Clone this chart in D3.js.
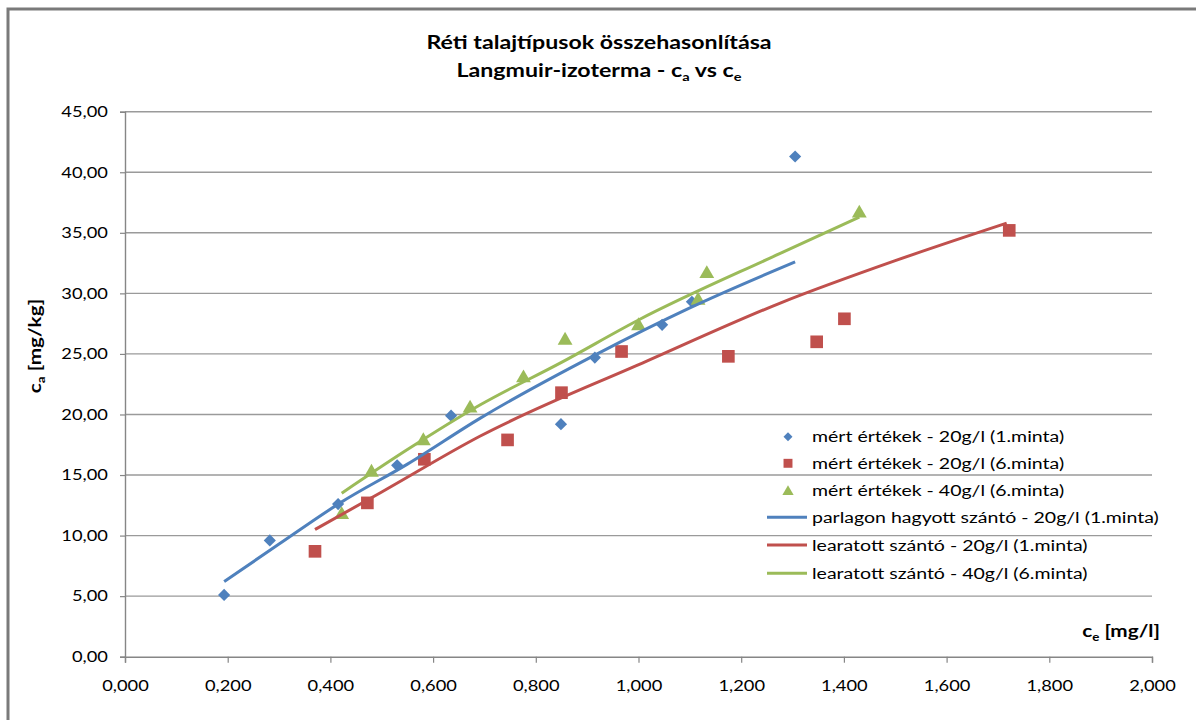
<!DOCTYPE html>
<html>
<head>
<meta charset="utf-8">
<script src="https://cdn.jsdelivr.net/npm/d3@7"></script>
<style>
    body { margin: 0; background: #fff; }
    text { font-family: Lato, "Open Sans", sans-serif; fill: #000; }
</style>
</head>
<body>
<svg width="1196" height="720"></svg>
<script>
const blueData = [[0.193, 5.1], [0.282, 9.6], [0.415, 12.6], [0.530, 15.8], [0.635, 19.9],
    [0.849, 19.2], [0.915, 24.7], [1.046, 27.4], [1.104, 29.3], [1.305, 41.3]];
const redData = [[0.370, 8.7], [0.472, 12.7], [0.583, 16.3], [0.745, 17.9], [0.850, 21.8],
    [0.967, 25.2], [1.175, 24.8], [1.347, 26.0], [1.401, 27.9], [1.722, 35.2]];
const greenData = [[0.422, 11.8], [0.480, 15.3], [0.581, 17.9], [0.672, 20.6], [0.776, 23.1],
    [0.857, 26.2], [1.000, 27.4], [1.116, 29.5], [1.133, 31.7], [1.430, 36.7]];

// fitted curves (points along the drawn lines)
const blueFit = [[0.193, 6.2], [0.300, 9.3], [0.419, 12.7], [0.550, 15.9], [0.692, 19.7],
    [0.915, 24.9], [1.100, 28.8], [1.305, 32.6]];
const redFit = [[0.370, 10.5], [0.500, 13.6], [0.691, 18.2], [1.016, 24.4], [1.276, 29.2],
    [1.500, 32.7], [1.717, 35.8]];
const greenFit = [[0.422, 13.5], [0.550, 17.1], [0.692, 20.8], [0.850, 24.3], [1.000, 27.8],
    [1.276, 33.3], [1.430, 36.3]];

const xTicks = [0, 0.2, 0.4, 0.6, 0.8, 1.0, 1.2, 1.4, 1.6, 1.8, 2.0];
const yTicks = [0, 5, 10, 15, 20, 25, 30, 35, 40, 45];

const legendLabels = [
    "mért értékek - 20g/l (1.minta)",
    "mért értékek - 20g/l (6.minta)",
    "mért értékek - 40g/l (6.minta)",
    "parlagon hagyott szántó - 20g/l (1.minta)",
    "learatott szántó - 20g/l (1.minta)",
    "learatott szántó - 40g/l (6.minta)"
];

const blue = "#4F81BD", red = "#C0504D", green = "#9BBB59";
const stretch = "scale(1.22,1)";

const svg = d3.select("svg");

// outer chart frame (runs off the right and bottom edge)
svg.append("rect")
    .attr("x", 8).attr("y", 9)
    .attr("width", 1300).attr("height", 800)
    .attr("fill", "none").attr("stroke", "#7a7a7a").attr("stroke-width", 3);

const x = d3.scaleLinear().domain([0, 2]).range([125, 1152]);
const y = d3.scaleLinear().domain([0, 45]).range([656.7, 111.7]);

// horizontal gridlines
svg.append("g").selectAll("line")
    .data(yTicks.filter(d => d > 0))
    .join("line")
    .attr("x1", x(0)).attr("x2", x(2))
    .attr("y1", d => y(d)).attr("y2", d => y(d))
    .attr("stroke", "#9a9a9a").attr("stroke-width", 1.4);

const fmtX = d => d3.format(".3f")(d).replace(".", ",");
const fmtY = d => d3.format(".2f")(d).replace(".", ",");

const yAxis = svg.append("g")
    .attr("transform", `translate(${x(0)},0)`)
    .call(d3.axisLeft(y).tickValues(yTicks).tickFormat(fmtY).tickSize(5).tickPadding(9));
const xAxis = svg.append("g")
    .attr("transform", `translate(0,${y(0)})`)
    .call(d3.axisBottom(x).tickValues(xTicks).tickFormat(fmtX).tickSize(6).tickPadding(18));

[yAxis, xAxis].forEach(ax => {
    ax.select(".domain").attr("stroke", "#868686").attr("stroke-width", 1.4);
    ax.selectAll(".tick line").attr("stroke", "#868686").attr("stroke-width", 1.2);
    ax.selectAll(".tick text")
        .attr("transform", stretch)
        .style("font-size", "15px").attr("fill", "#262626");
});

// markers
const diamond = d3.symbol().type(d3.symbolSquare).size(74);
const square = d3.symbol().type(d3.symbolSquare).size(160);
const triangle = d3.symbol().type(d3.symbolTriangle).size(95);

svg.append("g").selectAll("path").data(blueData).join("path")
    .attr("d", diamond)
    .attr("transform", d => `translate(${x(d[0])},${y(d[1])}) rotate(45)`)
    .attr("fill", blue);
svg.append("g").selectAll("path").data(redData).join("path")
    .attr("d", square)
    .attr("transform", d => `translate(${x(d[0])},${y(d[1])})`)
    .attr("fill", red);
svg.append("g").selectAll("path").data(greenData).join("path")
    .attr("d", triangle)
    .attr("transform", d => `translate(${x(d[0])},${y(d[1]) + 1})`)
    .attr("fill", green);

// fitted lines
const line = d3.line().x(d => x(d[0])).y(d => y(d[1])).curve(d3.curveMonotoneX);
[[blueFit, blue], [redFit, red], [greenFit, green]].forEach(([pts, col]) => {
    svg.append("path").datum(pts)
        .attr("d", line)
        .attr("fill", "none")
        .attr("stroke", col)
        .attr("stroke-width", 3);
});

// title
const title = svg.append("g").attr("transform", "translate(599,0)");
title.append("text").attr("y", 49).attr("text-anchor", "middle")
    .attr("transform", stretch)
    .style("font-size", "19px").style("font-weight", "bold")
    .text("Réti talajtípusok összehasonlítása");
const t2 = title.append("text").attr("y", 77).attr("text-anchor", "middle")
    .attr("transform", stretch)
    .style("font-size", "19px").style("font-weight", "bold");
t2.append("tspan").text("Langmuir-izoterma - c");
t2.append("tspan").attr("dy", 4).style("font-size", "12px").text("a");
t2.append("tspan").attr("dy", -4).text(" vs c");
t2.append("tspan").attr("dy", 4).style("font-size", "12px").text("e");

// axis titles
const yt = svg.append("text")
    .attr("transform", "translate(41,346) rotate(-90) scale(1.22,1)")
    .attr("text-anchor", "middle")
    .style("font-size", "17px").style("font-weight", "bold");
yt.append("tspan").text("c");
yt.append("tspan").attr("dy", 4).style("font-size", "11px").text("a");
yt.append("tspan").attr("dy", -4).text(" [mg/kg]");

const xt = svg.append("g").attr("transform", "translate(1160,637)");
const xtt = xt.append("text").attr("text-anchor", "end")
    .attr("transform", stretch)
    .style("font-size", "17px").style("font-weight", "bold");
xtt.append("tspan").text("c");
xtt.append("tspan").attr("dy", 4).style("font-size", "11px").text("e");
xtt.append("tspan").attr("dy", -4).text(" [mg/l]");

// legend
const legendY = [436.7, 463.3, 490.7, 517.3, 545, 573.3];
const leg = svg.append("g");
const legSymbols = [
    d3.symbol().type(d3.symbolSquare).size(40),
    d3.symbol().type(d3.symbolSquare).size(80),
    d3.symbol().type(d3.symbolTriangle).size(55)
];
const legColors = [blue, red, green, blue, red, green];
legendLabels.forEach((lab, i) => {
    const g = leg.append("g").attr("transform", `translate(0,${legendY[i]})`);
    if (i < 3) {
        g.append("path").attr("d", legSymbols[i])
            .attr("transform", `translate(788,${i === 2 ? 1 : 0})${i === 0 ? " rotate(45)" : ""}`)
            .attr("fill", legColors[i]);
    } else {
        g.append("line").attr("x1", 767).attr("x2", 807)
            .attr("stroke", legColors[i]).attr("stroke-width", 3);
    }
    g.append("g").attr("transform", "translate(812,0)")
        .append("text").attr("dy", "0.35em")
        .attr("transform", stretch)
        .style("font-size", "16px")
        .text(lab);
});
</script>
</body>
</html>
